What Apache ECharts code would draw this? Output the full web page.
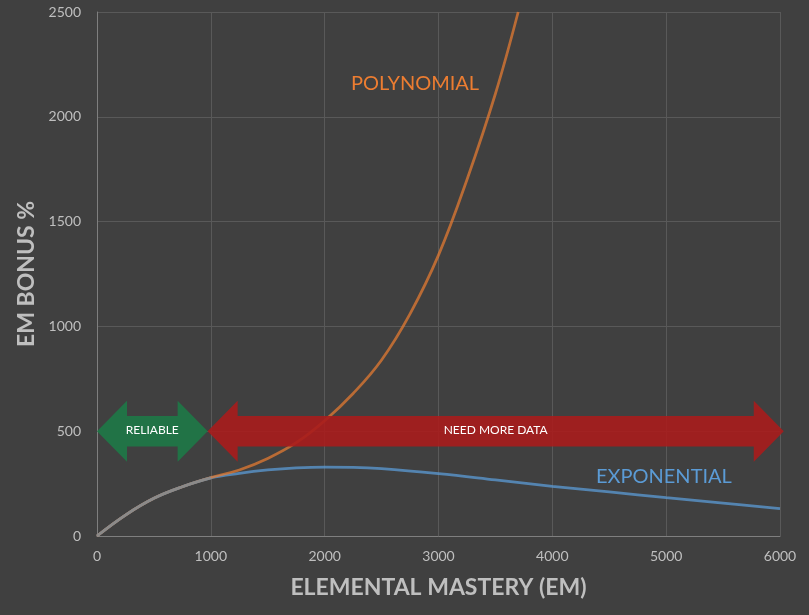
<!DOCTYPE html>
<html style="height: 100%">
   <head>
       <meta charset="utf-8">
   </head>
   <body style="height: 100%; margin: 0; background: #404040">
       <div id="container" style="width: 809px; height: 615px"></div>
       <script type="text/javascript" src="https://cdn.jsdelivr.net/npm/echarts@6/dist/echarts.min.js"></script>
       <script type="text/javascript">
        // curve readings (EM -> bonus %)
        var polyX = [0, 250, 500, 750, 1000, 1250, 1500, 1750, 2000, 2250, 2500, 2750, 3000, 3250, 3500, 3700];
        var polyY = [0, 100, 180, 235, 279, 315, 370, 445, 550, 680, 840, 1060, 1340, 1700, 2110, 2500];
        var expX = [0, 250, 500, 750, 1000, 1250, 1500, 1750, 2000, 2250, 2500, 3000, 3500, 4000, 4500, 5000, 5500, 6000];
        var expY = [0, 100, 180, 235, 277, 299, 315, 325, 329, 328, 322, 298, 268, 237, 210, 183, 157, 131];
        var dataX = [0, 250, 500, 750, 1000];
        var dataY = [0, 100, 180, 235, 277];

        // range arrows
        var arrowFrom = [0, 972];
        var arrowTo = [972, 6033];
        var arrowAt = [500, 500];
        var arrowText = ['RELIABLE', 'NEED MORE DATA'];
        var arrowColor = ['#217346', 'rgba(168,28,28,0.9)'];

        var xTicks = [0, 1000, 2000, 3000, 4000, 5000, 6000];
        var yTicks = [0, 500, 1000, 1500, 2000, 2500];

        function pairs(xs, ys) {
            return xs.map(function (x, i) { return [x, ys[i]]; });
        }

        var arrowData = arrowText.map(function (t, i) {
            return [arrowFrom[i], arrowTo[i], arrowAt[i], i];
        });

        var font = 'Lato';
        var dom = document.getElementById('container');
        var myChart = echarts.init(dom);

        var option = {
            backgroundColor: '#404040',
            animation: false,
            textStyle: {fontFamily: font},
            grid: {left: 97, right: 29, top: 12, bottom: 79},
            xAxis: {
                type: 'value',
                min: xTicks[0],
                max: xTicks[xTicks.length - 1],
                interval: 1000,
                name: 'ELEMENTAL MASTERY (EM)',
                nameLocation: 'middle',
                nameGap: 40,
                nameTextStyle: {color: '#bfbfbf', fontSize: 23, fontWeight: 'bold', fontFamily: font},
                axisLine: {lineStyle: {color: '#7f7f7f', width: 1}},
                axisTick: {show: false},
                axisLabel: {color: '#bfbfbf', fontSize: 14, margin: 13, fontFamily: font,
                            formatter: function (v) { return String(v); }},
                splitLine: {lineStyle: {color: '#595959', width: 1}}
            },
            yAxis: {
                type: 'value',
                min: yTicks[0],
                max: yTicks[yTicks.length - 1],
                interval: 500,
                name: 'EM BONUS %',
                nameLocation: 'middle',
                nameGap: 50,
                nameTextStyle: {color: '#bfbfbf', fontSize: 23, fontWeight: 'bold', fontFamily: font},
                axisLine: {show: true, lineStyle: {color: '#7f7f7f', width: 1}},
                axisTick: {show: false},
                axisLabel: {color: '#bfbfbf', fontSize: 14, margin: 16, fontFamily: font,
                            formatter: function (v) { return String(v); }},
                splitLine: {lineStyle: {color: '#595959', width: 1}}
            },
            graphic: [
                {type: 'text', left: 351, top: 74, z: 10,
                 style: {text: 'POLYNOMIAL', fill: '#ed7d31', font: '20px ' + font}},
                {type: 'text', left: 596, top: 467, z: 10,
                 style: {text: 'EXPONENTIAL', fill: '#5b9bd5', font: '20px ' + font}}
            ],
            series: [
                {
                    name: 'Exponential', type: 'line', data: pairs(expX, expY),
                    smooth: 0.4, showSymbol: false, z: 2,
                    lineStyle: {color: '#5b9bd5', width: 2.75, opacity: 0.75}
                },
                {
                    name: 'Polynomial', type: 'line', data: pairs(polyX, polyY),
                    smooth: 0.4, showSymbol: false, z: 3,
                    lineStyle: {color: '#ed7d31', width: 2.75, opacity: 0.7}
                },
                {
                    name: 'Data', type: 'line', data: pairs(dataX, dataY),
                    smooth: 0.4, showSymbol: false, z: 4,
                    lineStyle: {color: '#8a8a8a', width: 2.75}
                },
                {
                    name: 'Ranges', type: 'custom', data: arrowData, z: 5, clip: false,
                    encode: {x: [0, 1], y: 2},
                    renderItem: function (params, api) {
                        var a = api.coord([api.value(0), api.value(2)]);
                        var b = api.coord([api.value(1), api.value(2)]);
                        var y = a[1], x1 = a[0], x2 = b[0];
                        var h = 30, H = 30.5, B = 15.3;
                        var i = api.value(3);
                        return {
                            type: 'group',
                            children: [
                                {
                                    type: 'polygon',
                                    shape: {points: [
                                        [x1, y], [x1 + h, y - H], [x1 + h, y - B], [x2 - h, y - B],
                                        [x2 - h, y - H], [x2, y], [x2 - h, y + H], [x2 - h, y + B],
                                        [x1 + h, y + B], [x1 + h, y + H]
                                    ]},
                                    style: {fill: arrowColor[i]}
                                },
                                {
                                    type: 'text',
                                    style: {
                                        text: arrowText[i], x: (x1 + x2) / 2, y: y - 1,
                                        align: 'center', verticalAlign: 'middle',
                                        fill: '#ffffff', font: '12px ' + font
                                    }
                                }
                            ]
                        };
                    }
                }
            ]
        };
        myChart.setOption(option, true);
       </script>
   </body>
</html>
